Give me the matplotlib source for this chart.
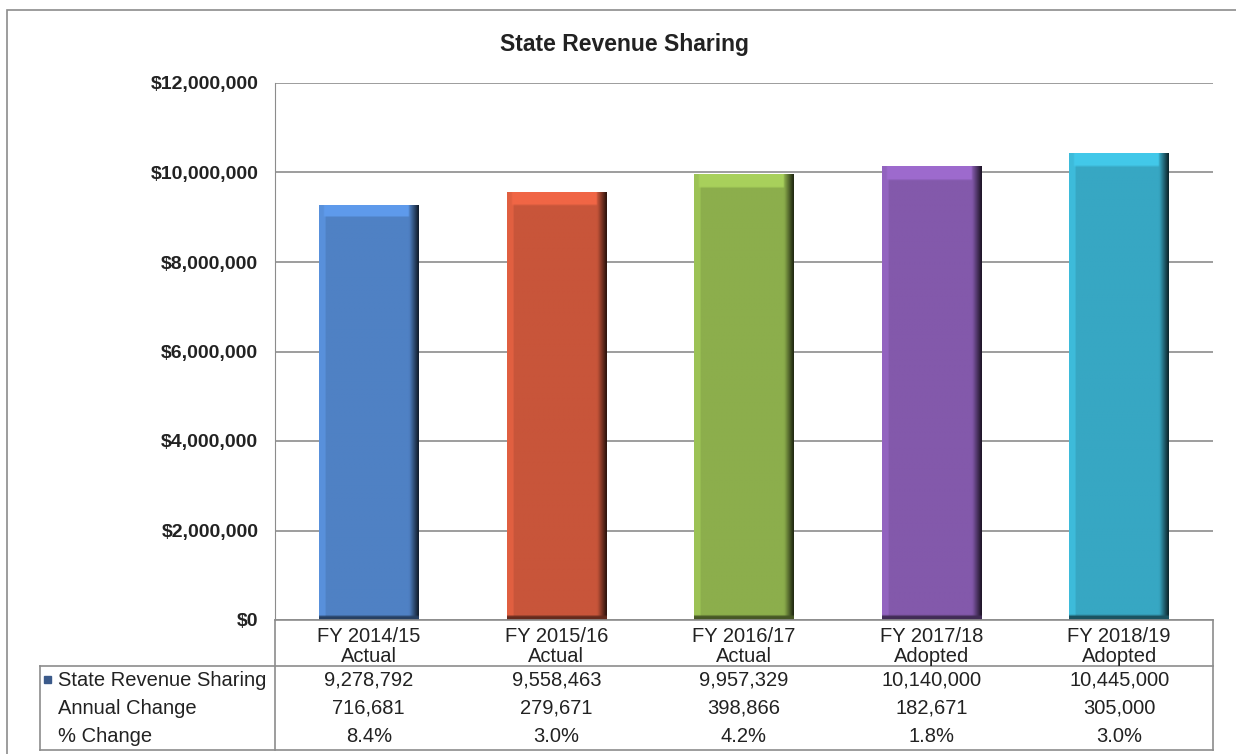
import matplotlib.pyplot as plt
import matplotlib.colors as mcolors
from matplotlib.patches import Rectangle
from matplotlib.ticker import FuncFormatter
import numpy as np

plt.rcParams['font.family'] = ['Liberation Sans', 'DejaVu Sans']

title = 'State Revenue Sharing'
years = ['FY 2014/15', 'FY 2015/16', 'FY 2016/17', 'FY 2017/18', 'FY 2018/19']
stages = ['Actual', 'Actual', 'Actual', 'Adopted', 'Adopted']
revenue = [9278792, 9558463, 9957329, 10140000, 10445000]
annual_change = ['716,681', '279,671', '398,866', '182,671', '305,000']
pct_change = ['8.4%', '3.0%', '4.2%', '1.8%', '3.0%']
row_labels = ['State Revenue Sharing', 'Annual Change', '% Change']
bar_colors = ['#4f81c4', '#c8553a', '#8cae4c', '#8359ab', '#37a7c3']

W, H = 1236, 754
fig = plt.figure(figsize=(W / 100, H / 100), dpi=100)

# pixel layout of the original
px_left, px_right, px_top, px_zero = 275, 1213, 83, 620
tbl_left, tbl_bottom, tbl_mid = 40, 750, 666
grey = '#8c8c8c'
txt = '#222222'

ax = fig.add_axes([px_left / W, 1 - px_zero / H,
                   (px_right - px_left) / W, (px_zero - px_top) / H])
n = len(revenue)
x = np.arange(n)
ax.set_ylim(0, 12000000)
ax.set_yticks(np.arange(0, 12000001, 2000000))
ax.yaxis.set_major_formatter(FuncFormatter(lambda v, p: '${:,.0f}'.format(v)))
ax.tick_params(axis='y', length=0, pad=12, labelsize=14, labelcolor=txt)
for lab in ax.get_yticklabels():
    lab.set_fontweight('bold')
ax.set_xticks([])
ax.grid(axis='y', color=grey, linewidth=1.2)
ax.set_axisbelow(True)
for s in ['top', 'right', 'bottom']:
    ax.spines[s].set_visible(False)
ax.spines['left'].set_color(grey)

bw = 0.53
bars = ax.bar(x, revenue, width=bw, color=bar_colors, zorder=2)

# bevel shading on each bar
nx, ny = 60, 200
for b, c in zip(bars, bar_colors):
    base = np.array(mcolors.to_rgb(c))
    u = np.linspace(0, 1, nx)
    fac = np.ones(nx)
    fac[u < 0.06] = 1.12
    fac = np.where(u > 0.91, 1 - (u - 0.91) / 0.09 * 0.75, fac)
    img = np.clip(base[None, None, :] * fac[None, :, None] * np.ones((ny, 1, 1)), 0, 1)
    top = int(ny * 0.03)
    img[-top:, 3:int(nx * 0.91), :] = np.clip(base * 1.2, 0, 1)
    img[:2, :, :] = base * 0.5
    x0 = b.get_x()
    h = b.get_height()
    im = ax.imshow(img, extent=(x0, x0 + bw, 0, h), origin='lower',
                   aspect='auto', zorder=3, interpolation='bilinear')
    im.set_clip_path(b)
ax.set_xlim(-0.5, n - 0.5)
ax.set_ylim(0, 12000000)

fig.text(625 / W, 1 - 44 / H, title, ha='center', va='center',
         fontsize=16.5, fontweight='bold', color=txt)

# data table below the axis
ppu = (px_right - px_left) / n
tax = fig.add_axes([tbl_left / W, 1 - tbl_bottom / H,
                    (px_right - tbl_left) / W, (tbl_bottom - px_zero) / H])
xmin = -0.5 - (px_left - tbl_left) / ppu
tax.set_xlim(xmin, n - 0.5)
tax.set_ylim(tbl_bottom, px_zero)
tax.axis('off')
lk = dict(color=grey, linewidth=1.2, clip_on=False)
tax.plot([-0.5, n - 0.5], [px_zero, px_zero], **lk)
tax.plot([n - 0.5, n - 0.5], [px_zero, tbl_bottom], **lk)
tax.plot([xmin, n - 0.5], [tbl_mid, tbl_mid], **lk)
tax.plot([xmin, n - 0.5], [tbl_bottom, tbl_bottom], **lk)
tax.plot([xmin, xmin], [tbl_mid, tbl_bottom], **lk)
tax.plot([-0.5, -0.5], [px_zero, tbl_bottom], **lk)

fs = 14.5
for i in range(n):
    tax.text(i, 637, years[i], ha='center', va='center', fontsize=fs, color=txt)
    tax.text(i, 656, stages[i], ha='center', va='center', fontsize=fs, color=txt)
    tax.text(i, 680, '{:,}'.format(revenue[i]), ha='center', va='center', fontsize=fs, color=txt)
    tax.text(i, 708, annual_change[i], ha='center', va='center', fontsize=fs, color=txt)
    tax.text(i, 736, pct_change[i], ha='center', va='center', fontsize=fs, color=txt)

lx = xmin + 18 / ppu
for r, y in zip(row_labels, [680, 708, 736]):
    tax.text(lx, y, r, ha='left', va='center', fontsize=fs, color=txt)
tax.add_patch(Rectangle((xmin + 4 / ppu, 676), 7 / ppu, 7,
                        color='#3b5a8a', clip_on=False))

# outer chart frame
fig.patches.append(Rectangle((7 / W, -0.01), 1.0, 1 - 10 / H + 0.01,
                             transform=fig.transFigure, fill=False,
                             edgecolor=grey, linewidth=1.2))

fig.savefig('out.png', dpi=100)
